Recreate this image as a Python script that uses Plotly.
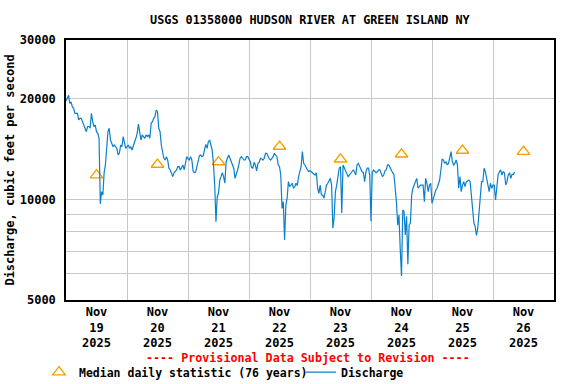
import pandas as pd
import plotly.graph_objects as go

# Discharge, half-hourly readings (cfs) starting 2025-11-19 00:00
discharge = [
    19700, 20070, 20500, 19390, 19530, 18950, 18740, 18100, 18100, 18100,
    17290, 17490, 17490, 17090, 16900, 16530, 15950, 16530, 16530, 16330,
    18100, 17090, 16530, 16700, 15950, 15770, 15240, 9700, 10550, 10310,
    12020, 12680, 13900, 15950, 16330, 15060, 14720, 14380, 14550, 14380,
    14220, 13580, 13740, 14550, 14380, 15420, 14880, 14220, 14380, 14550,
    14220, 14380, 14060, 14550, 14880, 15240, 15770, 16800, 15590, 15060,
    15590, 15420, 15240, 15590, 15420, 15590, 15240, 16900, 17090, 17490,
    17690, 18520, 18310, 16330, 15950, 14550, 13900, 13280, 13120, 13430,
    13120, 12400, 12250, 12020, 11700, 12020, 12100, 12250, 12530, 12530,
    12250, 12530, 12680, 12250, 12970, 13430, 13220, 13120, 13430, 13120,
    12180, 12020, 12070, 12680, 13030, 13520, 13580, 13430, 13520, 14060,
    14620, 14220, 14880, 15060, 14380, 14060, 12820, 11040, 8580, 10190,
    10430, 11430, 11700, 12020, 11700, 11180, 12970, 13280, 13580, 13280,
    12970, 12530, 12400, 11560, 11830, 12250, 12680, 13280, 13430, 13280,
    13120, 13120, 13430, 13430, 13120, 12970, 12450, 12400, 12910, 12680,
    12180, 12820, 12910, 13280, 13220, 13120, 13280, 13740, 13740, 13430,
    13220, 13120, 13280, 13430, 13740, 13580, 13430, 12680, 12530, 11830,
    9400, 9850, 7560, 9620, 10080, 11300, 10920, 11040, 11180, 10800,
    10920, 11180, 11000, 11700, 12020, 12530, 13900, 12820, 12680, 12400,
    12250, 12100, 12180, 12100, 12020, 11890, 11830, 12020, 10800, 10430,
    11040, 10310, 10310, 10080, 10550, 11040, 11180, 11430, 11560, 11040,
    8200, 8830, 10550, 11040, 11560, 12400, 12530, 9100, 12680, 12400,
    12250, 12020, 11700, 11830, 12020, 12100, 12250, 12100, 11830, 12680,
    12820, 12530, 12250, 12100, 12020, 11300, 12100, 12400, 12400, 11830,
    8600, 12020, 12250, 12100, 12020, 12100, 12250, 12250, 12020, 11700,
    11830, 12180, 12250, 12680, 12680, 12400, 12250, 12020, 11890, 11040,
    9850, 8380, 8980, 7100, 5900, 9300, 9190, 7830, 8900, 6400,
    8380, 8500, 10310, 10800, 11040, 11300, 11560, 10800, 10920, 11040,
    11040, 11040, 9850, 11560, 11180, 10550, 11040, 11180, 9730, 10080,
    10430, 10670, 10800, 11040, 11430, 12250, 13220, 13120, 12820, 12970,
    12680, 12820, 13580, 13900, 12970, 12680, 12820, 13120, 12680, 10800,
    11700, 10550, 11040, 11300, 10920, 11300, 11350, 11430, 11300, 10080,
    9620, 8480, 8290, 7800, 8200, 9190, 9850, 11300, 11300, 12400,
    12100, 11560, 11040, 10550, 11180, 10800, 11040, 11040, 9960, 10670,
    11830, 12100, 12250, 11830, 12100, 12020, 11040, 11300, 11830, 12020,
    11560, 11890, 11890, 12070,
]
discharge_start = "2025-11-19 00:00"

median_days = ["2025-11-19 12:00", "2025-11-20 12:00", "2025-11-21 12:00", "2025-11-22 12:00",
               "2025-11-23 12:00", "2025-11-24 12:00", "2025-11-25 12:00", "2025-11-26 12:00"]
median_values = [11830, 12720, 12940, 14400, 13190, 13650, 14010, 13910]

y_tickvals = [5000, 6000, 7000, 8000, 9000, 10000, 20000, 30000]
y_ticktext = ["5000", "", "", "", "", "10000", "20000", "30000"]

times = pd.date_range(discharge_start, periods=len(discharge), freq="30min")

FONT = "DejaVu Sans Mono"
fig = go.Figure()
fig.add_trace(go.Scatter(
    x=median_days, y=median_values, mode="markers",
    name="Median daily statistic (76 years)", legend="legend",
    marker=dict(symbol="triangle-up-open", size=11, color="#f5a000", line=dict(width=1.3, color="#f5a000")),
))
fig.add_trace(go.Scatter(
    x=times, y=discharge, mode="lines", name="Discharge", legend="legend2",
    line=dict(color="#0a80cc", width=1.2),
))

legend_common = dict(orientation="h", xanchor="left", xref="container", yref="container",
                     y=0.031, yanchor="middle",
                     font=dict(family=FONT, size=11.5, weight="bold"), bgcolor="rgba(0,0,0,0)",
                     itemwidth=30)

fig.update_layout(
    width=576, height=384,
    margin=dict(l=66, r=22, t=40, b=84, autoexpand=False),
    paper_bgcolor="white", plot_bgcolor="white",
    font=dict(family=FONT, size=12, color="black", weight="bold"),
    title=dict(text="USGS 01358000 HUDSON RIVER AT GREEN ISLAND NY",
               x=0.538, xanchor="center", y=0.948, yanchor="middle",
               font=dict(family=FONT, size=11.8, weight="bold", color="black")),
    showlegend=True,
    legend=dict(x=0.0677, **legend_common),
    legend2=dict(x=0.5225, **legend_common),
    annotations=[dict(text="---- Provisional Data Subject to Revision ----",
                      xref="paper", yref="paper", x=0.496, y=-0.223, showarrow=False,
                      xanchor="center", yanchor="middle",
                      font=dict(family=FONT, size=11.7, color="#ff0000", weight="bold"))],
)
fig.update_xaxes(
    type="date", range=["2025-11-19", "2025-11-27"], automargin=False,
    tickmode="linear", tick0="2025-11-19", dtick=86400000,
    ticklabelmode="period", tickformat="%b<br>%d<br>%Y",
    showgrid=True, gridcolor="#c8c8c8", gridwidth=1,
    showline=True, linecolor="black", linewidth=1.5, mirror=True,
    ticks="", tickfont=dict(family=FONT, size=12, weight="bold"),
    zeroline=False,
)
fig.update_yaxes(
    type="log", range=[3.69897, 4.4771213], automargin=False,
    tickmode="array", tickvals=y_tickvals, ticktext=y_ticktext,
    showgrid=True, gridcolor="#c8c8c8", gridwidth=1,
    showline=True, linecolor="black", linewidth=1.5, mirror=True,
    ticks="", ticklabelstandoff=6,
    tickfont=dict(family=FONT, size=12, weight="bold"),
    title=dict(text="Discharge, cubic feet per second", standoff=3,
               font=dict(family=FONT, size=12, weight="bold")),
    zeroline=False,
)

fig.write_html("out.html", config={"displayModeBar": False},
               post_script="document.body.style.margin='0px';")
